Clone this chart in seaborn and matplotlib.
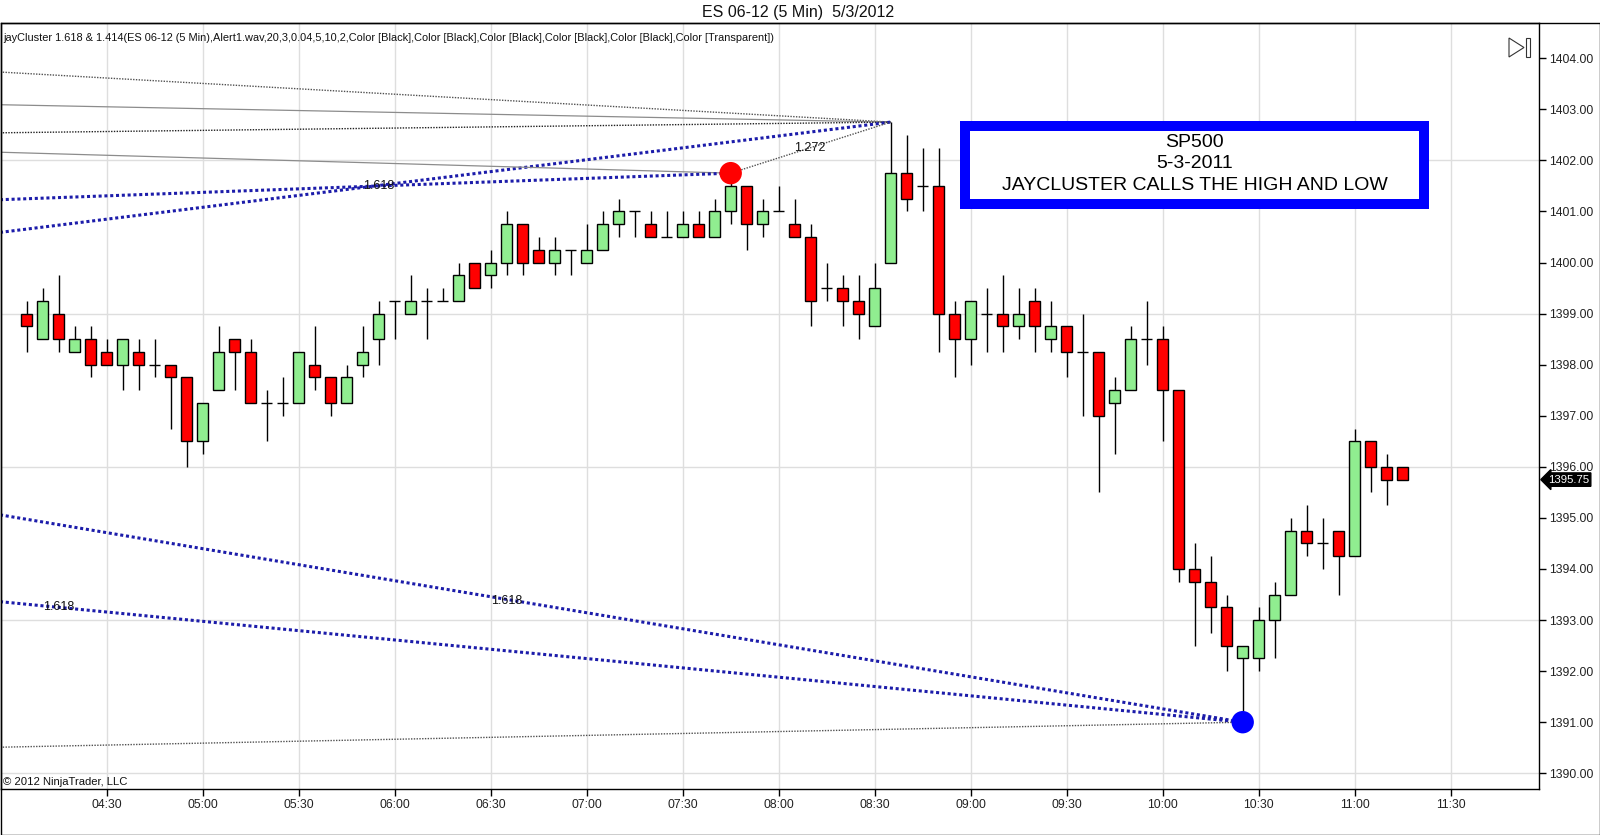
import numpy as np
import pandas as pd
import matplotlib
matplotlib.use("Agg")
import matplotlib.pyplot as plt
import matplotlib.transforms as mtransforms
from matplotlib.patches import Rectangle, Polygon
import seaborn as sns

# 5 minute bars, ES 06-12, 5/3/2012
times = pd.date_range("2012-05-03 04:05", periods=87, freq="5min")

opens = [1399, 1398.5, 1399, 1398.25, 1398.5, 1398.25, 1398, 1398.25, 1398, 1398,
         1397.75, 1396.5, 1397.5, 1398.5, 1398.25, 1397.25, 1397.25, 1397.25, 1398, 1397.75,
         1397.25, 1398, 1398.5, 1399.25, 1399, 1399.25, 1399.25, 1399.25, 1400, 1399.75,
         1400, 1400.75, 1400.25, 1400, 1400.25, 1400, 1400.25, 1400.75, 1401, 1400.75,
         1400.5, 1400.5, 1400.75, 1400.5, 1401, 1401.5, 1400.75, 1401, 1400.75, 1400.5,
         1399.5, 1399.5, 1399.25, 1398.75, 1400, 1401.75, 1401.5, 1401.5, 1399, 1398.5,
         1399, 1399, 1398.75, 1399.25, 1398.5, 1398.75, 1398.25, 1398.25, 1397.25, 1397.5,
         1398.5, 1398.5, 1397.5, 1394, 1393.75, 1393.25, 1392.25, 1392.25, 1393, 1393.5,
         1394.75, 1394.5, 1394.75, 1394.25, 1396.5, 1396, 1396]
highs = [1399.25, 1399.5, 1399.75, 1398.75, 1398.75, 1398.5, 1398.5, 1398.5, 1398.5, 1398,
         1397.75, 1397.25, 1398.75, 1398.5, 1398.5, 1397.5, 1397.75, 1398.25, 1398.75, 1397.75,
         1398, 1398.75, 1399.25, 1399.25, 1399.75, 1399.5, 1399.5, 1400, 1400, 1400.25,
         1401, 1400.75, 1400.5, 1400.5, 1400.25, 1400.75, 1401, 1401.25, 1401, 1401,
         1401, 1401, 1401, 1401.25, 1401.75, 1401.5, 1401.25, 1401.5, 1401.25, 1400.75,
         1400, 1399.75, 1399.75, 1400, 1402.75, 1402.5, 1402.25, 1402.25, 1399.25, 1399.25,
         1399.5, 1399.75, 1399.5, 1399.5, 1399.25, 1398.75, 1399, 1398.25, 1397.75, 1398.75,
         1399.25, 1398.75, 1397.5, 1394.5, 1394.25, 1393.5, 1392.5, 1393.25, 1393.75, 1395,
         1395.25, 1395, 1394.75, 1396.75, 1396.5, 1396.25, 1396]
lows = [1398.25, 1398.5, 1398.25, 1398.25, 1397.75, 1398, 1397.5, 1397.5, 1397.75, 1396.75,
        1396, 1396.25, 1397.5, 1397.5, 1397.25, 1396.5, 1397, 1397.25, 1397.5, 1397,
        1397.25, 1397.75, 1398, 1398.5, 1399, 1398.5, 1399.25, 1399.25, 1399.5, 1399.5,
        1399.75, 1399.75, 1400, 1399.75, 1399.75, 1400, 1400.25, 1400.5, 1400.5, 1400.5,
        1400.5, 1400.5, 1400.5, 1400.5, 1400.75, 1400.25, 1400.5, 1401, 1400.5, 1398.75,
        1399.25, 1398.75, 1398.5, 1398.75, 1400, 1401, 1401, 1398.25, 1397.75, 1398,
        1398.25, 1398.25, 1398.5, 1398.25, 1398.25, 1397.75, 1397, 1395.5, 1396.25, 1397.5,
        1398, 1396.5, 1393.75, 1392.5, 1392.75, 1392, 1391, 1392, 1392.25, 1393.5,
        1394.25, 1394, 1393.5, 1394.25, 1395.5, 1395.25, 1395.75]
closes = [1398.75, 1399.25, 1398.5, 1398.5, 1398, 1398, 1398.5, 1398, 1398, 1397.75,
          1396.5, 1397.25, 1398.25, 1398.25, 1397.25, 1397.25, 1397.25, 1398.25, 1397.75, 1397.25,
          1397.75, 1398.25, 1399, 1399.25, 1399.25, 1399.25, 1399.25, 1399.75, 1399.5, 1400,
          1400.75, 1400, 1400, 1400.25, 1400.25, 1400.25, 1400.75, 1401, 1401, 1400.5,
          1400.5, 1400.75, 1400.5, 1401, 1401.5, 1400.75, 1401, 1401, 1400.5, 1399.25,
          1399.5, 1399.25, 1399, 1399.5, 1401.75, 1401.25, 1401.5, 1399, 1398.5, 1399.25,
          1399, 1398.75, 1399, 1398.75, 1398.75, 1398.25, 1398.25, 1397, 1397.5, 1398.5,
          1398.5, 1397.5, 1394, 1393.75, 1393.25, 1392.5, 1392.5, 1393, 1393.5, 1394.75,
          1394.5, 1394.5, 1394.25, 1396.5, 1396, 1395.75, 1395.75]

# jayCluster pivots (bar index, price)
high_pivot = (54, 1402.75)
red_pivot = (44, 1401.75)
low_pivot = (76, 1391.0)

# cluster lines: price where each line enters at the left edge of the chart
to_high_start = [1403.73, 1403.09, 1402.54, 1400.59]
to_high_style = ["gray_dot", "gray", "dark_dot", "blue"]
to_red_start = [1402.16, 1401.23]
to_red_style = ["gray", "blue"]
to_low_start = [1395.06, 1393.36, 1390.51]
to_low_style = ["blue", "blue", "gray_dot"]

ratio_labels = ["1.618", "1.272", "1.618", "1.618"]
ratio_label_x = [21.98, 48.96, 2.02, 29.98]
ratio_label_y = [1401.49, 1402.24, 1393.25, 1393.37]

y_ticks = list(range(1390, 1405))
grid_levels = [1390, 1393, 1396, 1399, 1402]

df = pd.DataFrame({"time": times, "open": opens, "high": highs, "low": lows, "close": closes})
df["bar"] = np.arange(len(df))

sns.set_style("white")
plt.rcParams["font.family"] = ["Liberation Sans", "DejaVu Sans"]

W, H = 1600, 835
AX_L, AX_R, AX_T, AX_B = 1, 1539, 23, 789
fig = plt.figure(figsize=(W / 100, H / 100), dpi=100)
ax = fig.add_axes([AX_L / W, 1 - AX_B / H, (AX_R - AX_L) / W, (AX_B - AX_T) / H])


def afrac(px, py):
    return (px - AX_L) / (AX_R - AX_L), (AX_B - py) / (AX_B - AX_T)


ax.set_xlim(-1.606, 94.52)
ax.set_ylim(1389.692, 1404.69)

# grid
for lv in grid_levels:
    ax.axhline(lv, color="#dedede", lw=1, zorder=0)
tick_times = pd.date_range("2012-05-03 04:30", "2012-05-03 11:30", freq="30min")
tick_pos = [(t - times[0]) / pd.Timedelta("5min") for t in tick_times]
for tp in tick_pos:
    ax.axvline(tp, color="#dedede", lw=1, zorder=0)

# cluster lines
styles = {
    "gray": dict(color="#8c8c8c", lw=0.9, ls="-"),
    "gray_dot": dict(color="#505050", lw=1.0, ls=(0, (1, 1))),
    "dark_dot": dict(color="#202020", lw=1.0, ls=(0, (1, 1))),
    "blue": dict(color="#1c1caa", lw=2.2, ls=(0, (1, 0.9))),
}
x_left = -1.67
for p0, st in zip(to_high_start, to_high_style):
    ax.plot([x_left, high_pivot[0]], [p0, high_pivot[1]], zorder=2, **styles[st])
for p0, st in zip(to_red_start, to_red_style):
    ax.plot([x_left, red_pivot[0]], [p0, red_pivot[1]], zorder=2, **styles[st])
for p0, st in zip(to_low_start, to_low_style):
    ax.plot([x_left, low_pivot[0]], [p0, low_pivot[1]], zorder=2, **styles[st])
ax.plot([red_pivot[0], high_pivot[0]], [red_pivot[1], high_pivot[1]], zorder=2, **styles["gray_dot"])

for txt, lx, ly in zip(ratio_labels, ratio_label_x, ratio_label_y):
    ax.text(lx, ly, txt, fontsize=9, ha="center", va="center", color="#111111", zorder=3)

# candles
ax.vlines(df["bar"], df["low"], df["high"], color="black", lw=1, zorder=3)
body = df[df["close"] != df["open"]]
body_colors = np.where(body["close"] > body["open"], "#90ee90", "#ff0000")
ax.bar(body["bar"], (body["close"] - body["open"]).abs(),
       bottom=body[["open", "close"]].min(axis=1), width=0.66,
       color=body_colors, edgecolor="black", linewidth=1, zorder=4)
doji = df[df["close"] == df["open"]]
ax.hlines(doji["close"], doji["bar"] - 0.34, doji["bar"] + 0.34, color="black", lw=1, zorder=4)

# pivot dots
pivots = pd.DataFrame({"bar": [red_pivot[0], low_pivot[0]],
                       "price": [red_pivot[1], low_pivot[1]],
                       "kind": ["high", "low"]})
sns.scatterplot(data=pivots, x="bar", y="price", hue="kind",
                palette={"high": "#ff0000", "low": "#0000ff"},
                s=260, linewidth=0, legend=False, ax=ax, zorder=6)

# axes
ax.yaxis.tick_right()
ax.set_yticks(y_ticks)
ax.set_yticklabels([f"{v:.2f}" for v in y_ticks])
ax.set_xticks(tick_pos)
ax.set_xticklabels([t.strftime("%H:%M") for t in tick_times])
ax.tick_params(axis="both", direction="out", length=5, width=1, color="black",
               labelsize=8.7, labelcolor="#222222", pad=2)
ax.tick_params(axis="y", right=True, left=False)
ax.tick_params(axis="x", bottom=True, pad=2)
ax.set_xlabel("")
ax.set_ylabel("")
for sp in ax.spines.values():
    sp.set_color("black")
    sp.set_linewidth(1)

# last price tag
trans = mtransforms.blended_transform_factory(ax.transAxes, ax.transData)
ax.text(1 + 9 / (AX_R - AX_L), closes[-1], f"{closes[-1]:.2f}", transform=trans,
        fontsize=8.2, color="white", ha="left", va="center",
        bbox=dict(boxstyle="larrow,pad=0.15", fc="black", ec="black"), zorder=7, clip_on=False)

# annotation box
bx0, by0 = afrac(965, 204)
bx1, by1 = afrac(1424, 126)
ax.add_patch(Rectangle((bx0, by0), bx1 - bx0, by1 - by0, transform=ax.transAxes,
                       fc="white", ec="#0000ff", lw=7.2, zorder=8))
tx, ty = afrac(1194.5, 164)
ax.text(tx, ty, "SP500\n5-3-2011\nJAYCLUSTER CALLS THE HIGH AND LOW", transform=ax.transAxes,
        fontsize=14, ha="center", va="center", linespacing=1.38, color="black", zorder=9)

# indicator label and copyright
ix, iy = afrac(3, 38)
ax.text(ix, iy, "jayCluster 1.618 & 1.414(ES 06-12 (5 Min),Alert1.wav,20,3,0.04,5,10,2,"
        "Color [Black],Color [Black],Color [Black],Color [Black],Color [Black],Color [Transparent])",
        transform=ax.transAxes, fontsize=7.95, ha="left", va="center", color="#111111")
cx, cy = afrac(3, 782)
ax.text(cx, cy, "\u00a9 2012 NinjaTrader, LLC", transform=ax.transAxes,
        fontsize=8.1, ha="left", va="center", color="#111111")

# title
fig.text(798 / W, 1 - 12.5 / H, "ES 06-12 (5 Min)  5/3/2012", fontsize=11.5,
         ha="center", va="center", color="#111111")

# scroll-to-end icon
tri = [(1509 / W, 1 - 38 / H), (1509 / W, 1 - 57 / H), (1524 / W, 1 - 47.5 / H)]
fig.patches.append(Polygon(tri, closed=True, fill=False, ec="#333333", lw=0.8,
                           transform=fig.transFigure, figure=fig))
fig.patches.append(Rectangle((1526 / W, 1 - 57 / H), 4 / W, 19 / H, fill=False, ec="#333333",
                             lw=0.8, transform=fig.transFigure, figure=fig))

# outer frame
fig.patches.append(Rectangle((0.5 / W, 0.5 / H), (W - 1) / W, (H - AX_T - 0.5) / H, fill=False,
                             ec="black", lw=1, transform=fig.transFigure, figure=fig))

fig.savefig("out.png", dpi=100)
